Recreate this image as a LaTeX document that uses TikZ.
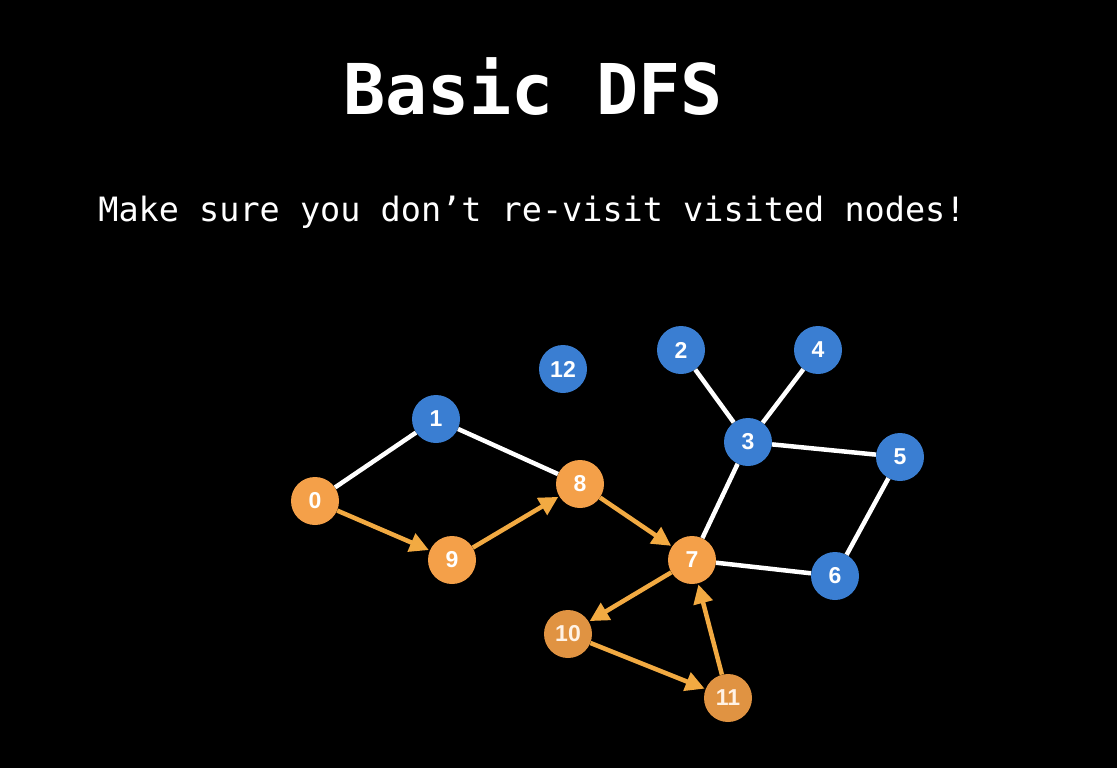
\documentclass[tikz,border=0pt]{standalone}
\usepackage{fontspec}
\setmainfont{Liberation Sans}
\newfontfamily\monofont{DejaVu Sans Mono}
\usetikzlibrary{arrows.meta}
\definecolor{bluenode}{HTML}{3A7ED2}
\definecolor{orangenode}{HTML}{F4A049}
\definecolor{darkorange}{HTML}{E09342}
\definecolor{arrowcol}{HTML}{F2AA42}
\begin{document}
\begin{tikzpicture}[x=1pt,y=-1pt,
  vertex/.style={circle,minimum size=48pt,inner sep=0pt,text=white,
    font=\fontsize{23}{23}\selectfont\bfseries},
  bluev/.style={vertex,fill=bluenode},
  orangev/.style={vertex,fill=orangenode},
  darkv/.style={vertex,fill=darkorange,text=white!90!orange},
  edge/.style={draw=white,line width=4.5pt},
  visit/.style={draw=arrowcol,line width=4.5pt,
    -{Triangle[length=19pt,width=19pt]},shorten >=1pt}]
\fill[black] (0,0) rectangle (1117,768);
\useasboundingbox (0,0) rectangle (1117,768);

\node[text=white,font=\monofont\fontsize{70}{70}\selectfont\bfseries,anchor=base]
  (title) at (533,114) {Basic DFS};
\node[text=white,font=\monofont\fontsize{33.5}{33.5}\selectfont,anchor=base]
  (sub) at (532,221) {Make sure you don’t re-visit visited nodes!};

% vertices
\node[orangev] (n0) at (315,501) {0};
\node[bluev] (n1) at (436,419) {1};
\node[bluev] (n2) at (681,350) {2};
\node[bluev] (n3) at (748,442) {3};
\node[bluev] (n4) at (818,350) {4};
\node[bluev] (n5) at (900,457) {5};
\node[bluev] (n6) at (835,576) {6};
\node[orangev] (n7) at (692,560) {7};
\node[orangev] (n8) at (580,484) {8};
\node[orangev] (n9) at (452,560) {9};
\node[darkv] (n10) at (568,634) {10};
\node[darkv] (n11) at (728,698) {11};
\node[bluev] (n12) at (563,369) {12};

% undirected edges
\draw[edge] (n0) -- (n1);
\draw[edge] (n1) -- (n8);
\draw[edge] (n2) -- (n3);
\draw[edge] (n4) -- (n3);
\draw[edge] (n3) -- (n5);
\draw[edge] (n3) -- (n7);
\draw[edge] (n5) -- (n6);
\draw[edge] (n7) -- (n6);

% traversal
\draw[visit] (n0) -- (n9);
\draw[visit] (n9) -- (n8);
\draw[visit] (n8) -- (n7);
\draw[visit] (n7) -- (n10);
\draw[visit] (n10) -- (n11);
\draw[visit] (n11) -- (n7);
\end{tikzpicture}
\end{document}
